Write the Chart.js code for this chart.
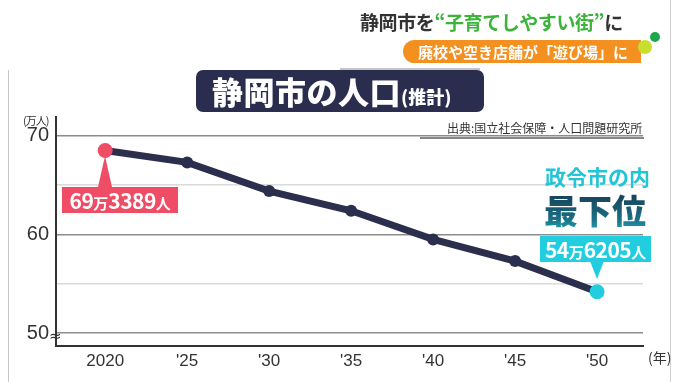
<!DOCTYPE html>
<html lang="ja">
<head>
<meta charset="utf-8">
<script src="https://cdn.jsdelivr.net/npm/chart.js@4/dist/chart.umd.min.js"></script>
<style>
  html, body { margin:0; padding:0; background:#fff; }
  #wrap { position:relative; width:680px; height:382px; overflow:hidden; font-family:"Noto Sans CJK JP", sans-serif; }
  canvas { position:absolute; left:0; top:0; }
  .abs { position:absolute; white-space:nowrap; }
  #frameL { left:8px; top:70px; width:1px; height:312px; background:#c8c8c8; }
  #frameR { left:670px; top:0; width:1px; height:382px; background:#d0d0d0; }
  #topRule { left:340px; top:68px; width:140px; height:2px; background:#c4c4c4; }
  #head1 { left:360px; top:8px; font-size:19px; font-weight:700; color:#333; letter-spacing:-0.4px; }
  #head1 .g { color:#3cb43c; }
  #banner { left:403px; top:40px; width:236px; height:23px; background:#f39020; color:#fff;
            font-size:15px; font-weight:700; line-height:23px; text-align:center;
            border-radius:16px 0 0 16px; padding-left:2px; }
  .dot { position:absolute; border-radius:50%; }
  #title { left:196px; top:70px; width:288px; height:42px; background:#2b2d4e; border-radius:7px;
           color:#fff; font-weight:900; line-height:42px; padding-left:16px; box-sizing:border-box; }
  #title .big { font-size:31px; letter-spacing:0.5px; }
  #title .sm { font-size:18px; }
  #source { left:447px; top:119px; font-size:12px; color:#333; }
  #srcRule { left:420px; top:137px; width:224px; height:2px; background:#888; }
  #unitY { left:23px; top:112px; font-size:11px; color:#333; letter-spacing:-1px; }
  #unitX { left:648px; top:347px; font-size:14px; color:#333; }
  #brk { left:49px; top:327px; font-size:15px; color:#333; font-family:"DejaVu Sans", sans-serif; }
  .callout { position:absolute; height:26px; color:#fff; font-weight:700; line-height:26px; text-align:center; }
  .callout .n { font-size:21px; letter-spacing:-0.5px; font-family:"Noto Sans CJK JP", sans-serif; }
  .callout .k { font-size:15px; }
  .tri { position:absolute; width:0; height:0; border-left:7px solid transparent; border-right:7px solid transparent; }
  #rank1 { left:545px; top:161px; font-size:21px; font-weight:700; color:#22c4d8; }
  #rank2 { left:544px; top:188px; font-size:34px; font-weight:900; line-height:44px;
           background:linear-gradient(#16364a, #1a6f86 70%, #1fa6b8); -webkit-background-clip:text; background-clip:text; color:transparent; }
</style>
</head>
<body>
<div id="wrap">
  <canvas id="chartCanvas" width="680" height="382"></canvas>
  <div class="abs" id="frameL"></div>
  <div class="abs" id="frameR"></div>
  <div class="abs" id="topRule"></div>
  <div class="abs" id="head1">静岡市を<span class="g">“子育てしやすい街”</span>に</div>
  <div class="abs" id="banner">廃校や空き店舗が「遊び場」に</div>
  <div class="dot" style="left:638px;top:40px;width:14px;height:14px;background:#c6df2e;"></div>
  <div class="dot" style="left:650px;top:32px;width:10px;height:10px;background:#1ca84a;"></div>
  <div class="abs" id="title"><span class="big">静岡市の人口</span><span class="sm">(推計)</span></div>
  <div class="abs" id="source">出典:国立社会保障・人口問題研究所</div>
  <div class="abs" id="srcRule"></div>
  <div class="abs" id="unitY">(万人)</div>
  <div class="abs" id="unitX">(年)</div>
  <div class="abs" id="brk">≈</div>
  <div class="abs" id="rank1">政令市の内</div>
  <div class="abs" id="rank2">最下位</div>
  <div class="tri" id="triFirst"></div>
  <div class="callout" id="boxFirst"></div>
  <div class="tri" id="triLast"></div>
  <div class="callout" id="boxLast"></div>
</div>
<script>
// ---------------- データ ----------------
const years = [2020, 2025, 2030, 2035, 2040, 2045, 2050];
const yearLabels = ['2020', "'25", "'30", "'35", "'40", "'45", "'50"];
const population = [68.5, 67.3, 64.4, 62.4, 59.5, 57.3, 54.2];   // 万人
const yTicks = [50, 55, 60, 65, 70];
const yTickLabels = ['50', '', '60', '', '70'];
const firstLabel = ['69', '万', '3389', '人'];
const lastLabel = ['54', '万', '6205', '人'];

const RED = '#ef4c65';
const CYAN = '#22cde0';
const NAVY = '#2b2e4c';

// ---------------- 吹き出し ----------------
function fillCallout(el, parts, color) {
  el.style.background = color;
  el.innerHTML = parts.map((p, i) => `<span class="${i % 2 ? 'k' : 'n'}">${p}</span>`).join('');
}
fillCallout(document.getElementById('boxFirst'), firstLabel, RED);
fillCallout(document.getElementById('boxLast'), lastLabel, CYAN);

const calloutPlugin = {
  id: 'callouts',
  afterDraw(chart) {
    const meta = chart.getDatasetMeta(0);
    const p0 = meta.data[0];
    const pN = meta.data[meta.data.length - 1];

    const box1 = document.getElementById('boxFirst');
    box1.style.width = '116px';
    box1.style.left = (p0.x - 43) + 'px';
    box1.style.top = (p0.y + 36) + 'px';
    const tri1 = document.getElementById('triFirst');
    tri1.style.borderBottom = '31px solid ' + RED;
    tri1.style.left = (p0.x - 7) + 'px';
    tri1.style.top = (p0.y + 5) + 'px';

    const box2 = document.getElementById('boxLast');
    box2.style.width = '111px';
    box2.style.left = (pN.x - 57) + 'px';
    box2.style.top = (pN.y - 56) + 'px';
    const tri2 = document.getElementById('triLast');
    tri2.style.borderTop = '18px solid ' + CYAN;
    tri2.style.left = (pN.x - 7) + 'px';
    tri2.style.top = (pN.y - 31) + 'px';
  }
};

// ---------------- Chart.js ----------------
const ctx = document.getElementById('chartCanvas').getContext('2d');
const chart = new Chart(ctx, {
  type: 'line',
  data: {
    datasets: [{
      data: years.map((y, i) => ({x: y, y: population[i]})),
      borderColor: NAVY,
      borderWidth: 7,
      pointBackgroundColor: population.map((v, i) => i === 0 ? RED : (i === population.length - 1 ? CYAN : NAVY)),
      pointBorderWidth: 0,
      pointRadius: population.map((v, i) => (i === 0 || i === population.length - 1) ? 7.5 : 6),
      tension: 0
    }]
  },
  options: {
    responsive: false,
    animation: false,
    layout: { padding: { top: 117, right: 37, left: 0, bottom: 0 } },
    plugins: { legend: { display: false }, tooltip: { enabled: false } },
    scales: {
      x: {
        type: 'linear',
        min: 2017,
        max: 2052.8,
        afterBuildTicks: s => { s.ticks = years.map(v => ({value: v})); },
        afterFit: s => { s.height = 36; },
        grid: { display: false, drawTicks: false },
        border: { display: true, color: '#333', width: 2 },
        ticks: {
          padding: 5,
          color: '#333',
          font: { family: 'Liberation Sans', size: 17 },
          callback: v => yearLabels[years.indexOf(v)]
        }
      },
      y: {
        min: 48.7,
        max: 71.9,
        afterBuildTicks: s => { s.ticks = yTicks.map(v => ({value: v})); },
        afterFit: s => { s.width = 56; },
        grid: {
          drawTicks: false,
          color: c => (c.tick && c.tick.value % 10 === 0) ? '#8c8c8c' : '#dadada',
          lineWidth: 1.5
        },
        border: { display: true, color: '#333', width: 2 },
        ticks: {
          padding: 7,
          color: '#333',
          font: { family: 'Liberation Sans', size: 20 },
          callback: v => yTickLabels[yTicks.indexOf(v)]
        }
      }
    }
  },
  plugins: [calloutPlugin]
});
</script>
</body>
</html>
